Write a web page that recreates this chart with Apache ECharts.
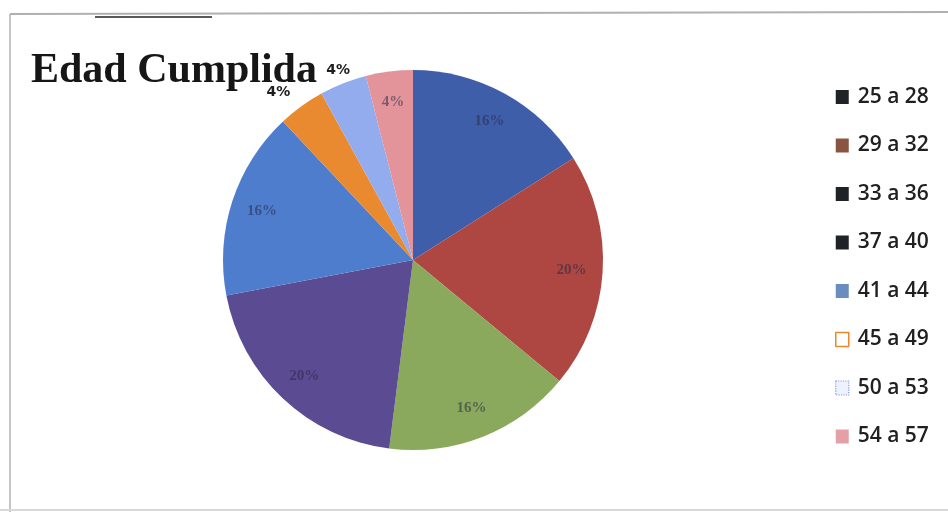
<!DOCTYPE html>
<html>
<head>
<meta charset="utf-8">
<script src="https://cdn.jsdelivr.net/npm/echarts@6/dist/echarts.min.js"></script>
<style>
  html, body { margin: 0; padding: 0; background: #fff; }
  #main { width: 948px; height: 512px; }
</style>
</head>
<body>
<div id="main"></div>
<script>
'use strict'

const categories = ['25 a 28', '29 a 32', '33 a 36', '37 a 40', '41 a 44', '45 a 49', '50 a 53', '54 a 57']
const counts = [4, 5, 4, 5, 4, 1, 1, 1]
const sliceColors = ['#3f5ea9', '#ae4741', '#8aa95c', '#5b4b93', '#4e7dcd', '#e98a30', '#93acee', '#e3949b']
// legend swatches in the scan don't match the slices, keep them as seen
const legendColors = ['#1f2227', '#8a5540', '#1f2227', '#1f2227', '#6a8dbf', '#ffffff', '#eef2ff', '#e3a0a6']
const outsideLabels = ['45 a 49', '50 a 53']

const center = [413, 260]
const R = 190

const eChartsContainer = document.getElementById('main')
const myChart = echarts.init(eChartsContainer, null, { renderer: 'canvas' })

const legendData = categories.map((name, i) => {
  const st = { color: legendColors[i] }
  if (i === 5) { st.borderColor = '#e8892f'; st.borderWidth = 1.5 }
  if (i === 6) { st.borderColor = '#7d9de6'; st.borderWidth = 1.2; st.borderType = 'dotted' }
  return { name: name, itemStyle: st }
})

myChart.setOption({
  backgroundColor: '#ffffff',
  animation: false,
  title: {
    text: 'Edad Cumplida',
    left: 26,
    top: 45,
    textStyle: { fontFamily: 'Liberation Serif', fontWeight: 'bold', fontSize: 42, color: '#161616' }
  },
  legend: {
    orient: 'vertical',
    left: 830,
    top: 81,
    icon: 'rect',
    itemWidth: 13,
    itemHeight: 14,
    itemGap: 26.5,
    data: legendData,
    textStyle: { fontFamily: 'Open Sans', fontWeight: 600, fontSize: 21, lineHeight: 22, color: '#202020', padding: [0, 0, 0, 4] }
  },
  graphic: [
    { type: 'line', shape: { x1: 10, y1: 14, x2: 10, y2: 512 }, style: { stroke: '#c4c4c4', lineWidth: 2 } },
    { type: 'line', shape: { x1: 10, y1: 14, x2: 948, y2: 12 }, style: { stroke: '#b0b0b0', lineWidth: 2 } },
    { type: 'line', shape: { x1: 95, y1: 17, x2: 212, y2: 17 }, style: { stroke: '#5a5a5a', lineWidth: 2 } },
    { type: 'line', shape: { x1: 0, y1: 510, x2: 948, y2: 510 }, style: { stroke: '#d8d8d8', lineWidth: 2 } }
  ],
  series: [
    {
      type: 'pie',
      center: center,
      radius: [0, R],
      startAngle: 90,
      clockwise: true,
      avoidLabelOverlap: false,
      label: { show: false },
      labelLine: { show: false },
      emphasis: { disabled: true },
      data: categories.map((name, i) => ({ name: name, value: counts[i], itemStyle: { color: sliceColors[i] } }))
    },
    {
      // transparent ring only used to place the percent labels at ~0.82 R
      type: 'pie',
      center: center,
      radius: [R * 0.64, R],
      startAngle: 90,
      clockwise: true,
      silent: true,
      avoidLabelOverlap: false,
      percentPrecision: 0,
      itemStyle: { color: 'rgba(0,0,0,0)' },
      emphasis: { disabled: true },
      label: {
        show: true,
        position: 'inside',
        formatter: '{d}%',
        fontFamily: 'Liberation Serif',
        fontSize: 15,
        fontWeight: 'bold',
        color: 'rgba(40,40,70,0.55)'
      },
      labelLine: { show: false },
      data: categories.map((name, i) => {
        const item = { name: name, value: counts[i] }
        if (outsideLabels.indexOf(name) >= 0) {
          const first = name === '45 a 49'
          item.label = { position: 'outside', fontFamily: 'DejaVu Sans', fontSize: 14, fontWeight: 'bold', color: '#1e1e1e' }
          item.labelLine = { show: false, length: first ? 17 : 14, length2: first ? -4 : -17 }
        }
        return item
      })
    }
  ]
})
</script>
</body>
</html>
